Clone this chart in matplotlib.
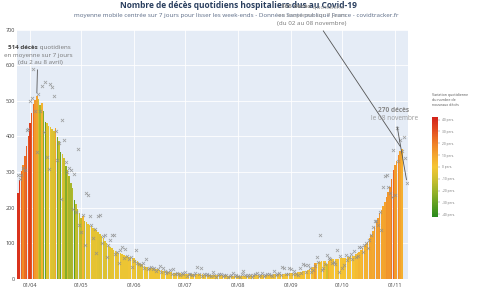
import matplotlib
matplotlib.use('Agg')
import matplotlib.pyplot as plt
import matplotlib.dates as mdates
from matplotlib.colors import LinearSegmentedColormap, Normalize
from matplotlib.colorbar import ColorbarBase
import numpy as np
import pandas as pd

plt.rcParams['font.family'] = ['Open Sans', 'DejaVu Sans']

# moyenne mobile centrée 7 jours (barres), du 25/03 au 05/11
avg_mar = [240, 278, 303, 320, 344, 372, 402]
avg_apr = [437, 466, 490, 503, 514, 505, 488, 494, 470, 440,
           436, 430, 427, 421, 414, 424, 398, 386, 356, 350,
           340, 316, 306, 288, 270, 254, 222, 210, 196, 184]
avg_may = [171, 176, 163, 158, 154, 150, 147, 143, 139, 136,
           131, 125, 119, 113, 107, 101, 95, 90, 86, 82,
           78, 75, 73, 71, 69, 67, 65, 63, 62, 60, 58]
avg_jun = [57, 53, 49, 45, 41, 38, 36, 34, 32, 31,
           30, 29, 28, 27, 26, 25, 24, 23, 22, 21,
           20, 19, 18, 17, 16, 16, 15, 15, 14, 14]
avg_jul = [13, 13, 13, 12, 12, 12, 13, 13, 12, 12,
           12, 11, 11, 11, 11, 10, 10, 10, 10, 10,
           9, 9, 9, 9, 9, 8, 8, 8, 8, 8, 8]
avg_aug = [8, 8, 8, 8, 8, 8, 8, 8, 9, 9,
           9, 9, 9, 9, 10, 10, 10, 10, 11, 11,
           11, 12, 12, 12, 13, 13, 13, 14, 14, 15, 15]
avg_sep = [16, 16, 17, 17, 18, 19, 20, 21, 22, 23,
           25, 27, 29, 32, 44, 45, 47, 48, 49, 50,
           51, 42, 51, 53, 54, 54, 55, 56, 56, 57]
avg_oct = [57, 58, 59, 61, 62, 63, 64, 65, 68, 71,
           76, 80, 86, 92, 98, 104, 114, 124, 133, 145,
           158, 170, 184, 194, 204, 215, 230, 244, 258, 280, 305]
avg_nov = [318, 330, 347, 358, 365]

# décès quotidiens bruts (croix), du 25/03 au 08/11
day_mar = [291, 280, 291, 311, 305, 418, 420]
day_apr = [499, 508, 588, 471, 356, 519, 471, 540, 412, 553,
           342, 309, 547, 539, 514, 416, 333, 380, 225, 445,
           390, 328, 300, 311, 305, 197, 295, 188, 365, 150]
day_may = [130, 180, 94, 241, 235, 176, 150, 113, 140, 71,
           176, 178, 100, 120, 122, 62, 95, 110, 122, 122,
           70, 76, 43, 80, 88, 58, 83, 64, 55, 60, 32]
day_jun = [50, 82, 45, 40, 38, 43, 30, 54, 28, 29,
           33, 26, 31, 22, 27, 36, 20, 29, 22, 15,
           18, 24, 14, 26, 12, 16, 14, 10, 15, 13]
day_jul = [18, 7, 12, 14, 9, 11, 16, 34, 12, 29,
           8, 12, 10, 13, 11, 8, 20, 9, 6, 11,
           13, 12, 8, 9, 10, 5, 8, 11, 15, 7, 9]
day_aug = [8, 6, 12, 21, 9, 7, 11, 10, 6, 9,
           12, 15, 8, 10, 15, 7, 9, 12, 14, 10,
           8, 22, 11, 13, 17, 9, 32, 30, 12, 14, 29]
day_sep = [26, 12, 22, 14, 10, 29, 16, 41, 38, 20,
           38, 30, 18, 24, 36, 62, 48, 122, 24, 30,
           40, 66, 58, 54, 43, 48, 40, 80, 20, 65]
day_oct = [29, 38, 66, 52, 60, 70, 55, 78, 62, 64,
           90, 88, 75, 95, 99, 85, 108, 122, 146, 163,
           163, 150, 188, 136, 258, 288, 291, 258, 241, 230, 361]
day_nov = [235, 423, 330, 390, 360, 398, 340, 270]

avg = np.array(avg_mar + avg_apr + avg_may + avg_jun + avg_jul + avg_aug + avg_sep + avg_oct + avg_nov)
daily = np.array(day_mar + day_apr + day_may + day_jun + day_jul + day_aug + day_sep + day_oct + day_nov)
bar_dates = pd.date_range('2020-03-25', periods=len(avg))
day_dates = pd.date_range('2020-03-25', periods=len(daily))

# variation quotidienne de la moyenne -> couleur
variation = np.diff(avg, prepend=avg[0])
variation[0] = variation[1]

title = "Nombre de décès quotidiens hospitaliers dus au Covid-19"
subtitle = ("moyenne mobile centrée sur 7 jours pour lisser les week-ends - "
            "Données Santé publique France - covidtracker.fr")
cbar_ticks = [-40, -30, -20, -10, 0, 10, 20, 30, 40]

cmap = LinearSegmentedColormap.from_list('var', [
    (0.0, '#2a8a1c'), (0.125, '#5f9f22'), (0.25, '#97b22a'), (0.375, '#cbbf30'),
    (0.5, '#f5c634'), (0.625, '#f3a42e'), (0.75, '#ee7b26'), (0.875, '#e24c20'),
    (1.0, '#d3231b')])
norm = Normalize(-42, 42)

W, H = 480, 292
fig = plt.figure(figsize=(W / 100, H / 100), dpi=100)
ax = fig.add_axes([17 / W, 1 - 278.7 / H, 391 / W, 249.2 / H])
ax.set_facecolor('#e5ecf6')

ax.bar(bar_dates, avg, width=0.85, color=cmap(norm(variation)), linewidth=0, zorder=2)
ax.scatter(day_dates, daily, marker='x', s=5, c='#8c8c8c', linewidths=0.55, alpha=0.8, zorder=3)

x_apr = mdates.date2num(pd.Timestamp('2020-04-01'))
ax.set_xlim(x_apr - 7.6, x_apr + 221.6)
ax.set_ylim(0, 700)
ax.set_yticks(range(0, 701, 100))
ax.xaxis.set_major_locator(mdates.MonthLocator(bymonthday=1))
ax.xaxis.set_major_formatter(mdates.DateFormatter('%d/%m'))
ax.grid(color='white', linewidth=0.6)
ax.set_axisbelow(True)
for s in ax.spines.values():
    s.set_visible(False)
ax.tick_params(length=0, labelsize=4, colors='#444444')
ax.tick_params(axis='y', pad=1.5)
ax.tick_params(axis='x', pad=3)

fig.text(238 / W, 1 - 6 / H, title, ha='center', va='center',
         fontsize=6.0, weight='bold', color='#2a3f5f')
fig.text(236 / W, 1 - 16 / H, subtitle, ha='center', va='center',
         fontsize=4.5, color='#5a6a85')

renderer = fig.canvas.get_renderer()


def text_line(xc, y, parts, size):
    """Draw a centred line made of several (text, weight, color) parts, y in px from top."""
    objs = []
    widths = []
    for txt, weight, color in parts:
        t = fig.text(0, 0, txt, fontsize=size, weight=weight, color=color,
                     ha='left', va='center', zorder=10)
        objs.append(t)
        widths.append(t.get_window_extent(renderer).width)
    left = xc - sum(widths) / 2
    for t, w in zip(objs, widths):
        t.set_position((left / W, 1 - y / H))
        left += w


def arrow(x_from, y_from, x_to, y_to):
    ax.annotate('', xy=(x_to, y_to), xycoords='data',
                xytext=(x_from, H - y_from), textcoords='figure pixels',
                arrowprops=dict(arrowstyle='-', color='#555555', lw=0.6), zorder=9)


# pic d'avril
text_line(39, 47.5, [('514 décès', 'bold', '#444444'), (' quotidiens', 'normal', '#777777')], 4.5)
text_line(38, 55, [('en moyenne sur 7 jours', 'normal', '#777777')], 4.5)
text_line(40, 62.5, [('(du 2 au 8 avril)', 'normal', '#777777')], 4.5)
arrow(37.5, 67, bar_dates[avg.argmax()], avg.max())

# novembre
text_line(312, 7, [('365 décès', 'bold', '#888888'), (' quotidiens', 'normal', '#999999')], 4.5)
text_line(312, 15.5, [('en moyenne sur 7 jours', 'normal', '#999999')], 4.5)
text_line(312, 24, [('(du 02 au 08 novembre)', 'normal', '#777777')], 4.5)
arrow(321.7, 28.5, bar_dates[-1], avg[-1])

text_line(393, 110.5, [('270 décès', 'bold', '#888888')], 4.7)
text_line(395, 118.8, [('le 08 novembre', 'normal', '#999999')], 4.7)
arrow(396.7, 124, day_dates[-1], daily[-1])

# barre de couleur
cax = fig.add_axes([431.7 / W, 1 - 216.7 / H, 6.6 / W, 99.4 / H])
cb = ColorbarBase(cax, cmap=cmap, norm=norm, ticks=cbar_ticks)
cb.outline.set_visible(False)
cb.set_ticklabels([f'{t} pers.' for t in cbar_ticks])
cax.tick_params(labelsize=2.3, length=1.5, width=0.3, colors='#777777', pad=1)
fig.text(431.5 / W, 1 - 93 / H, 'Variation quotidienne\ndu nombre de\nnouveaux décès',
         fontsize=2.6, va='top', ha='left', linespacing=1.35, color='#555555')

fig.savefig('out.png', dpi=100)
